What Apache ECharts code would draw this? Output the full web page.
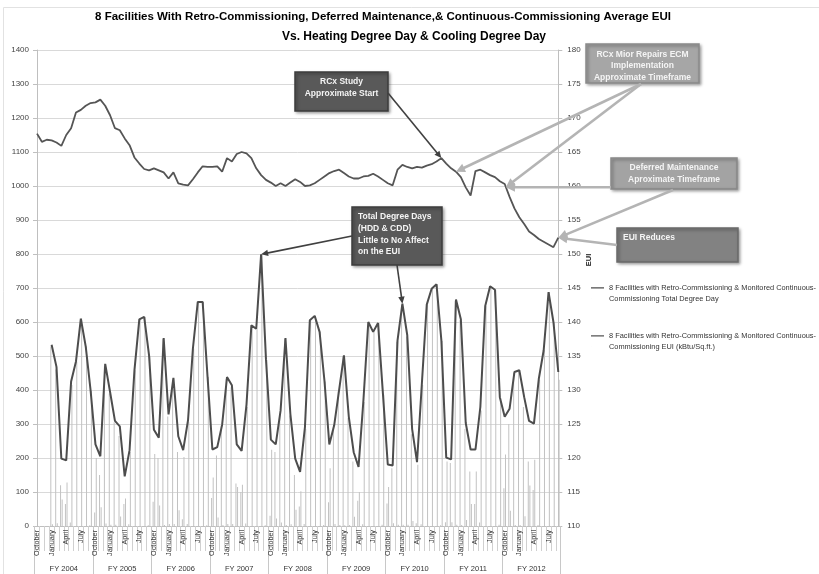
<!DOCTYPE html>
<html>
<head>
<meta charset="utf-8">
<script src="https://cdn.jsdelivr.net/npm/echarts@6/dist/echarts.min.js"></script>
<style>
  html, body { margin: 0; padding: 0; background: #ffffff; }
  #chart { width: 819px; height: 574px; }
</style>
</head>
<body>
<div id="chart"></div>
<script>
// Month and fiscal-year tick labels
const monthNames = ['October', 'November', 'December', 'January', 'February', 'March',
  'April', 'May', 'June', 'July', 'August', 'September'];
const fiscalYears = ['FY 2004', 'FY 2005', 'FY 2006', 'FY 2007', 'FY 2008',
  'FY 2009', 'FY 2010', 'FY 2011', 'FY 2012'];

// Monthly total degree days (HDD + CDD), Oct 2003 - Sep 2012
const totalDegreeDays = [
  null, null, null, 533, 468, 198, 193, 425, 484, 610, 528, 399,
  240, 205, 477, 394, 309, 293, 146, 223, 458, 608, 615, 502,
  283, 260, 553, 328, 436, 264, 223, 311, 522, 659, 659, 440,
  225, 232, 298, 438, 414, 240, 221, 357, 590, 580, 799, 490,
  254, 240, 340, 553, 330, 198, 159, 291, 605, 618, 571, 428,
  240, 296, 399, 502, 321, 217, 174, 370, 600, 571, 597, 390,
  181, 178, 546, 654, 561, 285, 188, 420, 651, 698, 711, 546,
  201, 196, 666, 608, 303, 225, 225, 350, 647, 705, 695, 379,
  321, 345, 453, 458, 379, 309, 301, 433, 517, 688, 600, 453
];

// Monthly heating degree days
const heatingDegreeDays = [
  null, null, null, 528, 460, 120, 65, 10, 0, 0, 0, 2,
  40, 150, 470, 390, 305, 265, 65, 5, 0, 0, 0, 2,
  71, 200, 550, 322, 430, 218, 20, 6, 0, 0, 0, 2,
  82, 207, 295, 432, 408, 125, 100, 7, 0, 0, 0, 2,
  30, 218, 330, 550, 325, 150, 57, 6, 0, 0, 0, 3,
  70, 290, 396, 500, 318, 190, 74, 5, 0, 0, 0, 4,
  66, 170, 542, 650, 557, 270, 8, 5, 0, 0, 0, 2,
  11, 185, 662, 605, 285, 160, 65, 10, 0, 0, 0, 4,
  111, 300, 450, 455, 350, 190, 106, 3, 0, 0, 0, 0
];

// Monthly cooling degree days
const coolingDegreeDays = [
  null, null, null, 5, 8, 78, 128, 415, 484, 610, 528, 397,
  200, 55, 7, 4, 4, 28, 81, 218, 458, 608, 615, 500,
  212, 60, 3, 6, 6, 46, 203, 305, 522, 659, 659, 438,
  143, 25, 3, 6, 6, 115, 121, 350, 590, 580, 799, 488,
  224, 22, 10, 3, 5, 48, 102, 285, 605, 618, 571, 425,
  170, 6, 3, 2, 3, 27, 100, 365, 600, 571, 597, 386,
  115, 8, 4, 4, 4, 15, 180, 415, 651, 698, 711, 544,
  190, 11, 4, 3, 18, 65, 160, 340, 647, 705, 695, 375,
  210, 45, 3, 3, 29, 119, 195, 430, 517, 688, 600, 430
];

// Average EUI (kBtu/sq.ft.), rolling monthly
const eui = [
  167.7, 166.5, 166.8, 166.7, 166.4, 165.9, 167.5, 168.5, 170.8, 171.2, 171.8, 172.2,
  172.3, 172.7, 171.8, 170.4, 168.5, 168.2, 167.0, 166.0, 164.2, 163.3, 162.5, 162.3,
  162.6, 162.3, 162.0, 161.1, 162.0, 160.4, 160.2, 160.1, 161.0, 162.0, 162.9, 162.8,
  162.8, 162.9, 162.1, 164.1, 163.6, 164.7, 165.0, 164.8, 164.1, 162.6, 161.6, 160.9,
  160.5, 160.0, 160.4, 160.0, 160.5, 161.0, 160.6, 160.0, 160.1, 160.4, 160.9, 161.4,
  161.9, 162.2, 162.4, 161.9, 161.4, 161.1, 161.1, 161.4, 161.5, 161.8, 161.4, 160.9,
  160.4, 160.1, 162.4, 163.1, 162.8, 162.6, 162.8, 162.7, 163.0, 163.2, 163.6, 164.1,
  163.3, 162.6, 162.1, 161.3, 159.8, 158.6, 162.2, 162.4, 162.0, 161.6, 161.3, 160.7,
  160.3, 158.4, 156.7, 155.4, 154.4, 153.3, 152.8, 152.2, 151.8, 151.4, 151.0, 152.4
];

const categories = fiscalYears.flatMap(() => monthNames);

const FONT = "'Liberation Sans Narrow', 'Liberation Sans', sans-serif";
const BOX_FONT = "'Liberation Sans', sans-serif";
const tddName = '8 Facilities with Retro-Commissioning & Monitored Continuous-\nCommissioning Total Degree Day';
const euiName = '8 Facilities with Retro-Commissioning & Monitored Continuous-\nCommissioning EUI (kBtu/Sq.ft.)';

const chart = echarts.init(document.getElementById('chart'), null, { renderer: 'canvas' });

chart.setOption({
  animation: false,
  backgroundColor: '#ffffff',
  textStyle: { fontFamily: FONT },
  title: [
    {
      text: '8 Facilities With Retro-Commissioning, Deferred Maintenance,& Continuous-Commissioning Average EUI',
      left: 383, textAlign: 'center', top: 11, padding: 0,
      textStyle: { fontFamily: FONT, fontSize: 11.5, fontWeight: 'bold', color: '#000' }
    },
    {
      text: 'Vs. Heating Degree Day & Cooling Degree Day',
      left: 414, textAlign: 'center', top: 31, padding: 0,
      textStyle: { fontFamily: FONT, fontSize: 12, fontWeight: 'bold', color: '#000' }
    }
  ],
  legend: {
    data: [tddName, euiName],
    orient: 'vertical',
    left: 586, top: 277,
    itemGap: 26,
    itemWidth: 13, itemHeight: 22,
    icon: 'path://M0,4.6H20V6.4H0Z M0,21.95H0.05V22H0Z',
    textStyle: { fontFamily: FONT, fontSize: 7.4, color: '#333', lineHeight: 11 },
    selectedMode: false
  },
  grid: [
    { left: 37, right: 260.7, top: 50, bottom: 48, outerBoundsMode: 'none', containLabel: false },
    { left: 34.56, right: 258.26, top: 50, bottom: 48, outerBoundsMode: 'none', containLabel: false }
  ],
  xAxis: [
    {
      gridIndex: 0, type: 'category', data: categories, boundaryGap: false,
      axisLine: { show: false }, axisTick: { show: false }, axisLabel: { show: false },
      splitLine: { show: false }
    },
    {
      gridIndex: 1, type: 'category', data: categories, boundaryGap: true, position: 'bottom',
      axisLine: { show: true, lineStyle: { color: '#bfbfbf', width: 1 } },
      axisTick: { show: true, interval: 0, length: 25, lineStyle: { color: '#d0d0d0' } },
      axisLabel: { interval: 2, rotate: 90, margin: 4, fontSize: 7.3, color: '#333', fontFamily: FONT },
      splitLine: { show: false }
    },
    {
      gridIndex: 1, type: 'category', data: fiscalYears, boundaryGap: true, position: 'bottom',
      axisLine: { show: false },
      axisTick: { show: true, interval: 0, length: 49, lineStyle: { color: '#c8c8c8' } },
      axisLabel: { interval: 0, margin: 39, fontSize: 7.5, color: '#333', fontFamily: FONT },
      splitLine: { show: false }
    }
  ],
  yAxis: [
    {
      gridIndex: 0, type: 'value', min: 0, max: 1400, interval: 100, position: 'left',
      name: 'Total Degree Days (HDD & CDD)', nameLocation: 'middle', nameGap: 23,
      nameTextStyle: { fontFamily: FONT, fontSize: 7.5, fontWeight: 'bold', color: '#222' },
      axisLine: { show: true, lineStyle: { color: '#bfbfbf' } },
      axisTick: { show: true, length: 4, lineStyle: { color: '#bfbfbf' } },
      axisLabel: { fontSize: 8, color: '#444', margin: 8, fontFamily: FONT, formatter: (v) => String(v) },
      splitLine: { show: true, lineStyle: { color: '#d9d9d9', width: 1 } }
    },
    {
      gridIndex: 0, type: 'value', min: 110, max: 180, interval: 5, position: 'right',
      name: 'EUI', nameLocation: 'middle', nameGap: 27, nameRotate: 90, nameMoveOverlap: false,
      nameTextStyle: { fontFamily: FONT, fontSize: 7.5, fontWeight: 'bold', color: '#222', padding: [0, 0, 0, 56] },
      axisLine: { show: true, lineStyle: { color: '#bfbfbf' } },
      axisTick: { show: true, length: 4, lineStyle: { color: '#bfbfbf' } },
      axisLabel: { fontSize: 8, color: '#444', margin: 9, fontFamily: FONT, formatter: (v) => String(v) },
      splitLine: { show: false }
    },
    { gridIndex: 1, type: 'value', min: 0, max: 1, show: false }
  ],
  series: [
    {
      name: 'Heating Degree Day', type: 'bar', xAxisIndex: 0, yAxisIndex: 0,
      data: heatingDegreeDays, barWidth: 1, barGap: '60%', silent: true,
      itemStyle: { color: '#c2c2c2' }
    },
    {
      name: 'Cooling Degree Day', type: 'bar', xAxisIndex: 0, yAxisIndex: 0,
      data: coolingDegreeDays, barWidth: 1, barGap: '60%', silent: true,
      itemStyle: { color: '#c2c2c2' }
    },
    {
      name: tddName, type: 'line', xAxisIndex: 0, yAxisIndex: 0,
      data: totalDegreeDays, showSymbol: false, connectNulls: false,
      itemStyle: { color: '#4d4d4d' }, lineStyle: { color: '#4d4d4d', width: 2 }, z: 5
    },
    {
      name: euiName, type: 'line', xAxisIndex: 0, yAxisIndex: 1,
      data: eui, showSymbol: false,
      itemStyle: { color: '#555555' }, lineStyle: { color: '#555555', width: 1.8 }, z: 5
    }
  ]
});

// ----- annotation callouts -----
const at = (i, yAxisIndex, values) => chart.convertToPixel({ xAxisIndex: 0, yAxisIndex }, [i, values[i]]);
const between = (i, t, yAxisIndex, values) => {
  const a = at(i, yAxisIndex, values), b = at(i + 1, yAxisIndex, values);
  return [a[0] + (b[0] - a[0]) * t, a[1] + (b[1] - a[1]) * t];
};

function arrow(from, to, color, width, headLen, headHalf) {
  const dx = to[0] - from[0], dy = to[1] - from[1];
  const len = Math.hypot(dx, dy);
  const ux = dx / len, uy = dy / len;
  const bx = to[0] - ux * headLen, by = to[1] - uy * headLen;
  return [
    { type: 'line', z: 20, silent: true,
      shape: { x1: from[0], y1: from[1], x2: bx + ux * 1, y2: by + uy * 1 },
      style: { stroke: color, lineWidth: width } },
    { type: 'polygon', z: 20, silent: true,
      shape: { points: [[to[0], to[1]], [bx - uy * headHalf, by + ux * headHalf], [bx + uy * headHalf, by - ux * headHalf]] },
      style: { fill: color } }
  ];
}

function box(x, y, w, h, fill, stroke) {
  return { type: 'rect', z: 15, silent: true,
    shape: { x, y, width: w, height: h },
    style: { fill, stroke, lineWidth: 1.5, shadowBlur: 3, shadowOffsetX: 1.5, shadowOffsetY: 1.5, shadowColor: 'rgba(0,0,0,0.35)' } };
}

function boxText(text, x, y, align, lineHeight) {
  return { type: 'text', z: 16, silent: true,
    style: { text, x, y, align, verticalAlign: 'middle', fill: '#f4f4f4',
      font: 'bold 8.5px ' + BOX_FONT, lineHeight } };
}

const DARK = '#404040', LIGHT = '#b4b4b4';
const euiEnd = at(107, 1, eui);
const maintTip = between(96, 0.25, 1, eui);

const graphics = [].concat(
  // chart area frame
  [{ type: 'rect', z: 0, silent: true, shape: { x: 3.5, y: 7.5, width: 900, height: 900 },
     style: { fill: null, stroke: '#e2e2e2', lineWidth: 1 } }],
  // study start
  arrow([388, 93], at(83, 1, eui), DARK, 1.6, 7, 3.2),
  // minor repairs window
  arrow([641, 84], at(86, 1, eui), LIGHT, 2.6, 9, 4.5),
  arrow([641, 84], maintTip, LIGHT, 2.6, 9, 4.5),
  // deferred maintenance window
  arrow([611, maintTip[1]], maintTip, LIGHT, 2.6, 9, 4.5),
  arrow([673, 190], euiEnd, LIGHT, 2.6, 9, 4.5),
  // EUI reduction
  arrow([617, 245], euiEnd, LIGHT, 2.6, 9, 4.5),
  // degree-day callouts
  arrow([352, 236], at(46, 0, totalDegreeDays), DARK, 1.6, 7, 3.2),
  arrow([397, 265], at(75, 0, totalDegreeDays), DARK, 1.6, 7, 3.2),
  [
    box(295, 72, 93, 39, '#595959', '#3c3c3c'),
    boxText('RCx Study\nApproximate Start', 341.5, 88, 'center', 12),

    box(586, 44, 113, 39, '#a6a6a6', '#8a8a8a'),
    boxText('RCx Mior Repairs ECM\nImplementation\nApproximate Timeframe', 642.5, 66, 'center', 11.5),

    box(611, 158, 126, 31, '#a3a3a3', '#888888'),
    boxText('Deferred Maintenance\nAproximate Timeframe', 674, 174, 'center', 12),

    box(617, 228, 121, 34, '#828282', '#6a6a6a'),
    boxText('EUI Reduces', 623, 237.5, 'left', 12),

    box(352, 207, 90, 58, '#595959', '#3c3c3c'),
    boxText('Total Degree Days\n(HDD & CDD)\nLittle to No Affect\non the EUI', 358, 234.5, 'left', 11.7)
  ]
);

chart.setOption({ graphic: graphics });
</script>
</body>
</html>
